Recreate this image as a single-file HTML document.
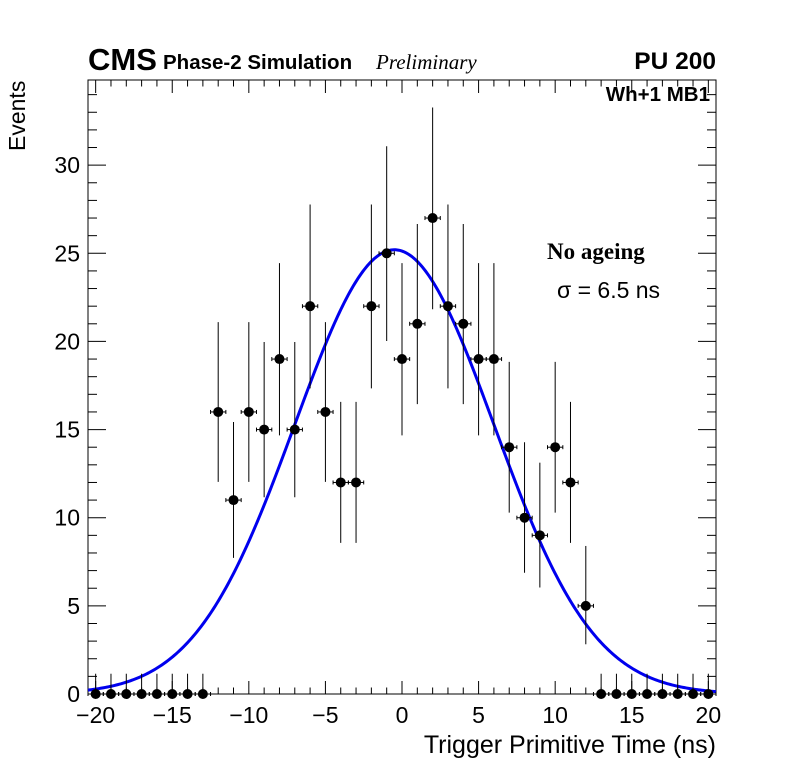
<!DOCTYPE html>
<html><head><meta charset="utf-8"><style>
body{margin:0;background:#fff}
svg text{font-family:"Liberation Sans",sans-serif}
</style></head><body>
<svg id="chart" width="796" height="772" xmlns="http://www.w3.org/2000/svg">
<rect x="0" y="0" width="796" height="772" fill="#fff"/>
<g id="axes"></g>
<g id="fit"></g>
<g id="points"></g>
<text x="88" y="70" font-size="31" font-weight="bold">CMS</text>
<text x="163" y="69" font-size="20.5" font-weight="bold">Phase-2 Simulation</text>
<text x="376" y="69" font-size="21" font-style="italic" style="font-family:'Liberation Serif',serif">Preliminary</text>
<text x="716" y="69" font-size="24.5" font-weight="bold" text-anchor="end">PU 200</text>
<text x="710" y="101" font-size="20.5" font-weight="bold" text-anchor="end">Wh+1 MB1</text>
<text x="547" y="259" font-size="23" font-weight="bold" style="font-family:'Liberation Serif',serif">No ageing</text>
<text x="557" y="298" font-size="23">σ = 6.5 ns</text>
<text transform="translate(25,151) rotate(-90)" font-size="23">Events</text>
<text x="716" y="753" font-size="25" text-anchor="end">Trigger Primitive Time (ns)</text>
</svg>
<script>
const times=[-20,-19,-18,-17,-16,-15,-14,-13,-12,-11,-10,-9,-8,-7,-6,-5,-4,-3,-2,-1,0,1,2,3,4,5,6,7,8,9,10,11,12,13,14,15,16,17,18,19,20];
const counts=[0,0,0,0,0,0,0,0,16,11,16,15,19,15,22,16,12,12,22,25,19,21,27,22,21,19,19,14,10,9,14,12,5,0,0,0,0,0,0,0,0];
const fitAmplitude=25.2;
const fitMean=-0.5;
const fitSigma=6.5;
const xTicks=[-20,-15,-10,-5,0,5,10,15,20];
const yTicks=[0,5,10,15,20,25,30];

const L=88,R=716,T=80,B=694,xmin=-20.5,xmax=20.5,ymin=0,ymax=34.83;
const X=v=>L+(v-xmin)/(xmax-xmin)*(R-L);
const Y=v=>B-(v-ymin)/(ymax-ymin)*(B-T);
const NS="http://www.w3.org/2000/svg";
function mk(tag,attrs,parent){const e=document.createElementNS(NS,tag);for(const k in attrs)e.setAttribute(k,attrs[k]);parent.appendChild(e);return e;}
const ax=document.getElementById('axes');
const frame=mk('rect',{x:L,y:T,width:R-L,height:B-T,fill:'none',stroke:'#000','stroke-width':1},ax);


for(let v=-20;v<=20;v++){
  const big=v%5===0,len=big?13:6.5,x=X(v);
  mk('line',{x1:x,x2:x,y1:B,y2:B-len,stroke:'#000'},ax);
  mk('line',{x1:x,x2:x,y1:T,y2:T+len,stroke:'#000'},ax);
}
xTicks.forEach(v=>{
  const t=mk('text',{x:X(v),y:723,'font-size':23,'text-anchor':'middle'},ax);
  t.textContent=(v<0?'\u2212':'')+Math.abs(v);
  
  
});
for(let v=0;v<=34;v++){
  const big=v%5===0,len=big?18:9,y=Y(v);
  mk('line',{x1:L,x2:L+len,y1:y,y2:y,stroke:'#000'},ax);
  mk('line',{x1:R,x2:R-len,y1:y,y2:y,stroke:'#000'},ax);
}
yTicks.forEach(v=>{
  const t=mk('text',{x:80,y:Y(v)+8,'font-size':23,'text-anchor':'end'},ax);
  t.textContent=v;
  
  
});
let d='';
for(let i=0;i<=400;i++){const v=xmin+(xmax-xmin)*i/400;const g=fitAmplitude*Math.exp(-Math.pow(v-fitMean,2)/(2*fitSigma*fitSigma));d+=(i?'L':'M')+X(v).toFixed(2)+' '+Y(g).toFixed(2);}
const fp=mk('path',{d:d,fill:'none',stroke:'#0000ee','stroke-width':3},document.getElementById('fit'));


const pg=document.getElementById('points');
times.forEach((t,i)=>{
  const n=counts[i];
  const up=n===0?1.15:n+Math.sqrt(n+0.75)+1;
  const lo=n===0?0:n-Math.sqrt(n-0.25);
  const x=X(t),y=Y(n);
  const g=mk('g',{},pg);
  
  
  mk('line',{x1:x,x2:x,y1:Y(up),y2:Y(lo),stroke:'#000'},g);
  mk('line',{x1:X(t-0.5),x2:X(t+0.5),y1:y,y2:y,stroke:'#000'},g);
  mk('line',{x1:X(t-0.5),x2:X(t-0.5),y1:y-2,y2:y+2,stroke:'#000'},g);
  mk('line',{x1:X(t+0.5),x2:X(t+0.5),y1:y-2,y2:y+2,stroke:'#000'},g);
  mk('circle',{cx:x,cy:y,r:5,fill:'#000'},g);
});
</script>
</body></html>
